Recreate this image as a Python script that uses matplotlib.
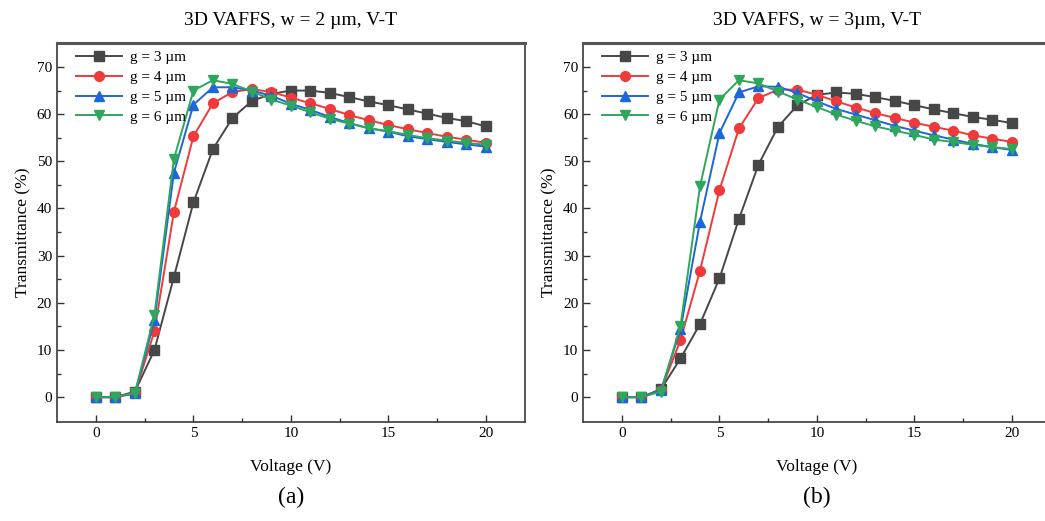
import numpy as np
from matplotlib import pyplot as plt

plt.rcParams['font.family'] = ['Liberation Serif', 'DejaVu Serif']
plt.rcParams['mathtext.fontset'] = 'stix'

V = np.arange(0, 21)  # voltage (V)
gaps = ['g = 3 µm', 'g = 4 µm', 'g = 5 µm', 'g = 6 µm']
colors = ['#474747', '#f03a3a', '#1c66dc', '#2ea65c']
markers = ['s', 'o', '^', 'v']

# (a) w = 2 um
Ta_g3 = [0, 0, 1.2, 10.0, 25.5, 41.3, 52.6, 59.2, 62.8, 64.3, 65.0, 65.0, 64.5, 63.6, 62.7, 61.9, 61.0, 60.1, 59.2, 58.5, 57.4]
Ta_g4 = [0, 0, 0.9, 14.0, 39.3, 55.3, 62.3, 64.7, 65.3, 64.7, 63.5, 62.3, 61.1, 59.8, 58.7, 57.7, 56.8, 56.0, 55.2, 54.6, 53.9]
Ta_g5 = [0, 0, 0.8, 16.3, 47.6, 62.0, 65.7, 65.7, 65.0, 63.9, 62.2, 60.9, 59.4, 58.1, 57.0, 56.3, 55.3, 54.7, 54.1, 53.6, 53.1]
Ta_g6 = [0, 0, 0.9, 17.4, 50.5, 65.0, 67.2, 66.4, 64.8, 63.1, 61.8, 60.4, 59.0, 58.0, 57.0, 56.4, 55.6, 54.9, 54.4, 53.9, 53.5]

# (b) w = 3 um
Tb_g3 = [0, 0, 1.7, 8.2, 15.5, 25.2, 37.8, 49.3, 57.3, 61.9, 64.1, 64.6, 64.3, 63.6, 62.8, 61.9, 61.0, 60.2, 59.4, 58.8, 58.1]
Tb_g4 = [0, 0, 1.5, 12.1, 26.8, 43.9, 57.0, 63.4, 65.2, 65.2, 64.1, 62.7, 61.4, 60.2, 59.2, 58.2, 57.3, 56.5, 55.5, 54.8, 54.1]
Tb_g5 = [0, 0, 1.5, 14.4, 37.2, 56.0, 64.6, 65.9, 65.8, 64.5, 62.7, 61.1, 59.9, 58.7, 57.5, 56.5, 55.5, 54.6, 53.7, 53.0, 52.4]
Tb_g6 = [0, 0, 1.2, 15.1, 44.7, 63.1, 67.2, 66.5, 64.8, 63.1, 61.5, 59.9, 58.6, 57.4, 56.5, 55.6, 54.6, 54.1, 53.5, 53.0, 52.6]

panels = [
    ('3D VAFFS, w = 2 µm, V-T', '(a)', [Ta_g3, Ta_g4, Ta_g5, Ta_g6]),
    ('3D VAFFS, w = 3µm, V-T', '(b)', [Tb_g3, Tb_g4, Tb_g5, Tb_g6]),
]

fig = plt.figure(figsize=(10.45, 5.21), dpi=100)
lefts = [0.0545, 0.5579]
for (title, tag, series), left in zip(panels, lefts):
    ax = fig.add_axes([left, 0.1906, 0.4478, 0.727])
    for T, lab, c, m in zip(series, gaps, colors, markers):
        ax.plot(V, T, color=c, marker=m, markersize=7, linewidth=1.4, label=lab)
    ax.set_xlim(-2, 22)
    ax.set_ylim(-5.2, 75.1)
    ax.set_xticks([0, 5, 10, 15, 20])
    ax.set_xticks(np.arange(0, 21, 2.5), minor=True)
    ax.set_yticks(np.arange(0, 71, 10))
    ax.set_yticks(np.arange(0, 71, 5), minor=True)
    ax.tick_params(which='both', direction='in', top=False, right=False, labelsize=11, color='#333333')
    ax.tick_params(which='major', length=5, width=1)
    ax.tick_params(which='minor', length=3, width=1)
    for s in ax.spines.values():
        s.set_color('#3a3a3a')
        s.set_linewidth(1.2)
    ax.spines['top'].set_linewidth(2.2)
    ax.spines['top'].set_color('#555555')
    ax.set_xlabel('Voltage (V)', fontsize=12.5, labelpad=14)
    ax.set_ylabel('Transmittance (%)', fontsize=12.5, labelpad=4)
    ax.set_title(title, fontsize=14, pad=13)
    ax.text(0.5, -0.2, tag, transform=ax.transAxes, ha='center', va='center', fontsize=17)
    ax.legend(loc='upper left', frameon=False, fontsize=11, handlelength=3.0,
              borderaxespad=0.1, labelspacing=0.4, handletextpad=0.5,
              bbox_to_anchor=(0.025, 1.0))

fig.savefig('out.png', dpi=100)
